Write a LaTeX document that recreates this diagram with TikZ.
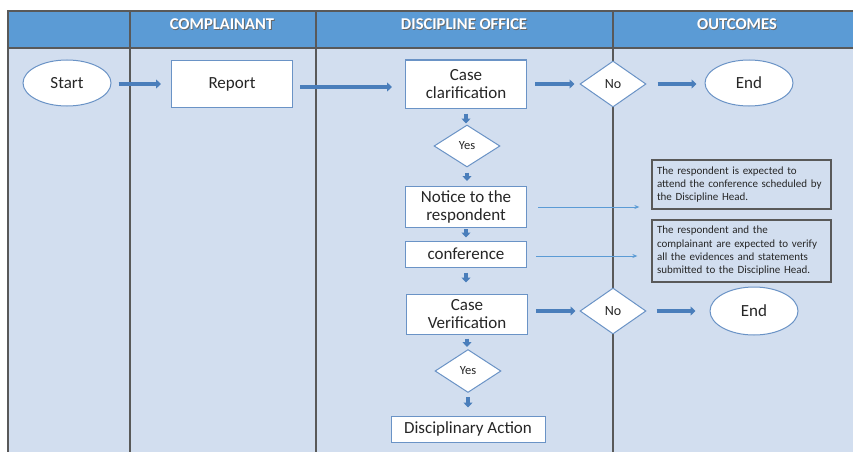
\documentclass[tikz,border=0pt]{standalone}
\usepackage{fontspec}
\setmainfont{Carlito}
\usetikzlibrary{shapes.geometric,arrows.meta}
\definecolor{hdr}{HTML}{5B9BD5}
\definecolor{bodybg}{HTML}{D2DEEF}
\definecolor{bordc}{HTML}{6A93C6}
\definecolor{arrc}{HTML}{4A7EBB}
\definecolor{thinarr}{HTML}{5B9BD5}
\definecolor{linec}{HTML}{595959}
\definecolor{txt}{HTML}{262626}
\begin{document}
\begin{tikzpicture}[x=1pt,y=-1pt,
  boxnode/.style={draw=bordc,line width=1pt,fill=white,minimum width=121pt,text=txt,
    font=\fontsize{17}{18.5}\selectfont,align=center,inner sep=0pt},
  ovalnode/.style={ellipse,draw=bordc,line width=1pt,fill=white,minimum width=88pt,minimum height=46pt,
    text=txt,font=\fontsize{17}{18}\selectfont,inner sep=0pt},
  decnode/.style={diamond,draw=bordc,line width=1pt,fill=white,minimum width=66pt,minimum height=46pt,
    text=txt,inner sep=0pt},
  notenode/.style={draw=linec,line width=1.3pt,fill=bodybg,minimum width=179pt,text width=169pt,
    inner xsep=5pt,inner ysep=3pt,align=left,text=txt,font=\fontsize{11}{13.3}\selectfont},
  hdrtext/.style={text=white,font=\bfseries\fontsize{16.5}{18}\selectfont},
  hdrshadow/.style={text=black!60,font=\bfseries\fontsize{16.5}{18}\selectfont},
  fat/.style={draw=arrc,line width=3.2pt,-{Triangle[length=5pt,width=9pt]}},
  thin/.style={draw=thinarr,line width=0.8pt,-{Stealth[length=5pt,width=4pt]}},
  lane/.style={draw=linec,line width=1.6pt}
]
\useasboundingbox (0,0) rectangle (853,452);
\fill[white] (0,0) rectangle (853,452);
\fill[hdr] (8,11) rectangle (853,48);
\fill[bodybg] (8,48) rectangle (853,452);
\draw[lane] (853,11) -- (8,11) -- (8,452);
\draw[lane] (8,48) -- (853,48);
\draw[lane] (130,11) -- (130,452);
\draw[lane] (316,11) -- (316,452);
\draw[lane] (613,11) -- (613,452);

% header
\node[hdrshadow] at (222.8,24.8) {COMPLAINANT};
\node[hdrtext] (h1) at (222,24) {COMPLAINANT};
\node[hdrshadow] at (464.8,24.8) {DISCIPLINE OFFICE};
\node[hdrtext] (h2) at (464,24) {DISCIPLINE OFFICE};
\node[hdrshadow] at (737.8,24.8) {OUTCOMES};
\node[hdrtext] (h3) at (737,24) {OUTCOMES};

% nodes
\node[ovalnode] (start) at (67,83) {Start};
\node[boxnode,minimum height=47pt] (report) at (232,84) {Report};
\node[boxnode,minimum height=48pt] (clar) at (466,84) {Case\\clarification};
\node[decnode,font=\fontsize{14}{15}\selectfont] (no1) at (613,84) {No};
\node[ovalnode] (end1) at (749,83) {End};
\node[decnode,minimum height=42pt,font=\fontsize{12.5}{13}\selectfont] (yes1) at (467,146) {Yes};
\node[boxnode,minimum height=41pt] (notice) at (466,207) {Notice to the\\respondent};
\node[boxnode,minimum height=26pt] (conf) at (466,254) {conference};
\node[boxnode,minimum height=40pt] (verif) at (467,314) {Case\\Verification};
\node[decnode,font=\fontsize{14}{15}\selectfont] (no2) at (613,311) {No};
\node[ovalnode,minimum height=48pt] (end2) at (754,311) {End};
\node[decnode,minimum height=43pt,font=\fontsize{12.5}{13}\selectfont] (yes2) at (468,371) {Yes};
\node[boxnode,minimum width=154pt,minimum height=26pt] (disc) at (468,429) {Disciplinary Action};

\node[notenode,minimum height=49pt] (note1) at (741.5,184.5) {The respondent is expected to\\attend the conference scheduled by\\the Discipline Head.};
\node[notenode,minimum height=62pt] (note2) at (741.5,251) {The respondent and the\\complainant are expected to verify\\all the evidences and statements\\submitted to the Discipline Head.};

% connectors
\draw[fat,shorten <=7pt,shorten >=10pt] (start.east |- report.west) -- (report.west);
\draw[fat,shorten <=7pt,shorten >=13pt] ([yshift=-3pt]report.east) -- ([yshift=-3pt]clar.west);
\draw[fat,shorten <=8pt,shorten >=5pt] (clar.east) -- (no1.west);
\draw[fat,shorten <=11pt,shorten >=8pt] (no1.east) -- (end1.west |- no1.east);
\draw[fat,shorten <=5pt,shorten >=1pt] (clar.south) -- (clar.south |- yes1.north);
\draw[fat,shorten <=5pt,shorten >=5pt] (yes1.south) -- (yes1.south |- notice.north);
\draw[fat,shorten <=1pt,shorten >=3pt] (notice.south) -- (conf.north);
\draw[fat,shorten <=5pt,shorten >=11pt] (conf.south) -- (conf.south |- verif.north);
\draw[fat,shorten <=8pt,shorten >=4pt] (verif.east |- no2.west) -- (no2.west);
\draw[fat,shorten <=10pt,shorten >=14pt] (no2.east) -- (end2.west);
\draw[fat,shorten <=4pt,shorten >=2pt] (verif.south) -- (verif.south |- yes2.north);
\draw[fat,shorten <=4pt,shorten >=8pt] (yes2.south) -- (yes2.south |- disc.north);
\draw[thin,shorten <=11pt,shorten >=12pt] (notice.east) -- (notice.east -| note1.west);
\draw[thin,shorten <=9pt,shorten >=14pt] ([yshift=-2pt]conf.east) -- ([yshift=-2pt]conf.east -| note2.west);
\end{tikzpicture}
\end{document}
